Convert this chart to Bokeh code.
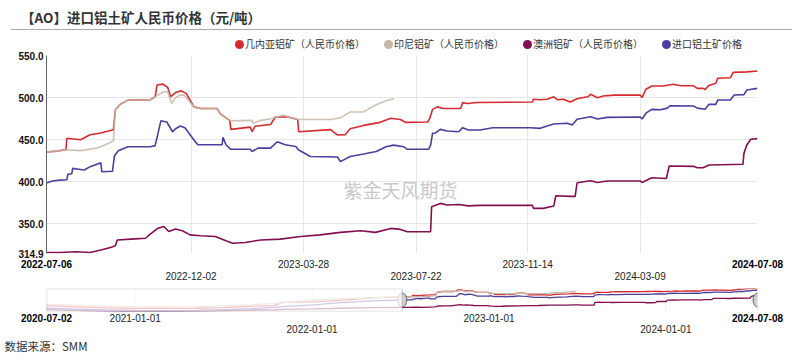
import pandas as pd
from bokeh.plotting import figure
from bokeh.models import (Range1d, FixedTicker, Label, Title,
                          BoxAnnotation, NumeralTickFormatter, ColumnDataSource,
                          LinearAxis, Div)
from bokeh.layouts import column
from bokeh.embed import file_html
from bokeh.resources import INLINE

TITLE = "【AO】进口铝土矿人民币价格（元/吨）"
SOURCE = "数据来源：SMM"
WATERMARK = "紫金天风期货"
names = ["几内亚铝矿（人民币价格）", "印尼铝矿（人民币价格）", "澳洲铝矿（人民币价格）", "进口铝土矿价格"]
colors = ["#d42a30", "#c6b7a7", "#820f52", "#4a3f9c"]

guinea_dates = ["2022-07-06","2022-07-16","2022-07-26","2022-07-27","2022-08-10","2022-08-20","2022-08-31","2022-09-10","2022-09-13","2022-09-15","2022-09-20","2022-09-28","2022-10-21","2022-10-26","2022-10-28","2022-11-03","2022-11-08","2022-11-11","2022-11-16","2022-11-22","2022-11-27","2022-12-05","2022-12-12","2022-12-29","2023-01-01","2023-01-08","2023-01-11","2023-01-12","2023-02-01","2023-02-03","2023-02-06","2023-02-22","2023-02-27","2023-03-12","2023-03-22","2023-03-23","2023-04-25","2023-05-02","2023-05-10","2023-05-15","2023-05-29","2023-06-15","2023-06-26","2023-07-06","2023-07-11","2023-08-03","2023-08-05","2023-08-08","2023-08-13","2023-08-19","2023-09-06","2023-09-08","2023-09-13","2023-09-23","2023-11-19","2023-11-20","2023-11-27","2023-12-04","2023-12-11","2023-12-15","2023-12-21","2023-12-28","2024-01-04","2024-01-15","2024-01-18","2024-01-25","2024-01-31","2024-02-11","2024-03-09","2024-03-11","2024-03-15","2024-03-21","2024-04-02","2024-04-12","2024-04-20","2024-05-03","2024-05-07","2024-05-13","2024-05-15","2024-05-19","2024-05-26","2024-05-28","2024-06-10","2024-06-13","2024-06-27","2024-07-08"]
guinea_vals = [435.5,436.5,438,451.7,450,456,458,461,462,485.3,492,497,497.5,501,515,516,512,501,506,508,505,489,487,487,481,475,473,462.3,465,459.5,466,468,477,477,474,459.5,462,455.6,456,463,467,470.6,475.4,474,470.6,471,475,486,489,487,487,494,493,494.2,494.7,498,497.4,498,501,497.4,498,494.7,498.7,501,503.9,499.9,502,503,503,500,509.9,513.8,513.8,515.8,514,514,511,511,509.7,514.5,517,522.9,523.5,530,530.6,531.6]

indonesia_dates = ["2022-07-06","2022-07-16","2022-07-27","2022-08-10","2022-08-26","2022-09-05","2022-09-13","2022-09-15","2022-09-20","2022-09-28","2022-10-21","2022-10-26","2022-11-01","2022-11-04","2022-11-08","2022-11-12","2022-11-16","2022-11-21","2022-11-25","2022-11-27","2022-12-05","2022-12-12","2022-12-29","2023-01-01","2023-01-08","2023-01-12","2023-02-03","2023-02-04","2023-02-12","2023-02-22","2023-03-07","2023-03-15","2023-03-22","2023-04-25","2023-05-05","2023-05-15","2023-05-29","2023-06-05","2023-06-15","2023-06-23","2023-06-29"]
indonesia_vals = [435.5,436.5,438,437,440,444,448.8,485.3,492,497,497.5,501,505,507,507,493,500,503,503,500,489,487,487,481,475,472.6,473,469.5,473,475,479.3,476,474,474,476,483,483,488,493.5,497,498.5]

australia_dates = ["2022-07-06","2022-07-20","2022-08-05","2022-08-20","2022-08-31","2022-09-10","2022-09-15","2022-09-17","2022-10-01","2022-10-16","2022-10-21","2022-10-29","2022-11-04","2022-11-09","2022-11-16","2022-11-23","2022-12-01","2022-12-12","2022-12-27","2023-01-07","2023-01-14","2023-01-27","2023-02-12","2023-03-04","2023-03-25","2023-04-14","2023-05-05","2023-05-26","2023-06-10","2023-06-26","2023-07-06","2023-07-13","2023-08-06","2023-08-07","2023-08-16","2023-08-23","2023-09-04","2023-09-14","2023-09-26","2023-11-19","2023-11-20","2023-11-30","2023-12-11","2023-12-13","2023-12-28","2024-01-02","2024-01-04","2024-01-18","2024-01-25","2024-02-04","2024-03-09","2024-03-11","2024-03-21","2024-04-05","2024-04-08","2024-05-03","2024-05-07","2024-05-13","2024-05-19","2024-06-23","2024-06-24","2024-06-27","2024-07-01","2024-07-08"]
australia_vals = [316,316,317,316,319,322,324,331,332,333,338,345,347,341,344,342,337,336,335,330,327,328,331,332,335,337,340,342,340,344.7,343.5,340.7,340.7,370.4,374.4,372.4,373,371.4,372.1,372.1,368.5,368.5,371.4,383.5,382.7,382.7,398.9,401.3,399.3,400.9,401,399.3,404.9,404,418.8,418.4,416.8,416.8,420,420.8,433.8,443.7,450.5,451.3]

import_dates = ["2022-07-06","2022-07-12","2022-07-20","2022-07-27","2022-07-28","2022-08-01","2022-08-02","2022-08-08","2022-08-14","2022-08-20","2022-08-27","2022-08-31","2022-09-01","2022-09-12","2022-09-14","2022-09-18","2022-09-28","2022-10-21","2022-10-26","2022-11-01","2022-11-07","2022-11-13","2022-11-16","2022-11-21","2022-11-26","2022-12-05","2022-12-09","2023-01-03","2023-01-04","2023-01-07","2023-01-12","2023-02-01","2023-02-03","2023-02-09","2023-02-22","2023-03-01","2023-03-09","2023-03-20","2023-03-23","2023-04-04","2023-05-02","2023-05-05","2023-05-15","2023-05-29","2023-06-11","2023-06-21","2023-06-29","2023-07-09","2023-07-13","2023-08-04","2023-08-06","2023-08-08","2023-08-11","2023-08-16","2023-08-23","2023-09-04","2023-09-08","2023-09-14","2023-09-26","2023-10-09","2023-11-17","2023-11-27","2023-12-04","2023-12-11","2023-12-25","2023-12-30","2024-01-04","2024-01-18","2024-01-25","2024-02-04","2024-03-09","2024-03-11","2024-03-15","2024-03-21","2024-03-30","2024-04-06","2024-04-09","2024-05-03","2024-05-07","2024-05-15","2024-05-19","2024-05-26","2024-05-28","2024-06-10","2024-06-14","2024-06-24","2024-06-27","2024-07-08"]
import_vals = [398.5,401,402,402.5,409,409.5,416,415,414,418,421,422.5,412,412.5,430.6,437,441.7,441.7,443,472.6,471,459.5,463,466.3,464,449.6,444,444,452.8,444,438.6,438.6,436,440,440,447.6,444,442,437.8,430,429.5,424,430,433,436,441.7,443.6,441.7,438.6,438.6,443.6,457.6,458,462.3,460.3,459.5,464.3,461.5,461.5,464.3,464.3,463.5,466.3,468.7,469.5,467.5,474.2,477.3,474.6,476.5,477,474.6,481.5,486,485.5,487.5,490.4,490,487.5,486.1,492,492,497.1,497.1,503.1,503.5,509,511]

# earlier history shown only in the navigator
hist_dates = ["2020-07-02","2020-09-01","2020-11-02","2021-01-04","2021-03-01","2021-05-06","2021-07-01","2021-09-01","2021-10-15","2021-11-01","2022-01-04","2022-03-01","2022-05-05","2022-07-05"]
hist_guinea = [335,322,310,305,303,305,312,330,335,372,378,395,425,435]
hist_indonesia = [350,340,330,322,320,325,335,345,360,368,400,415,428,435]
hist_australia = [290,280,272,268,270,272,278,285,288,292,298,305,312,316]
hist_import = [305,295,285,280,278,282,290,300,315,325,345,370,390,398]

y_ticks = [314.9, 350, 400, 450, 500, 550]
main_ticks_row1 = ["2023-03-28", "2023-11-14"]
main_ticks_row2 = ["2022-12-02", "2023-07-22", "2024-03-09"]
nav_ticks_row1 = ["2021-01-01", "2023-01-01"]
nav_ticks_row2 = ["2022-01-01", "2024-01-01"]


def ms(s):
    return pd.Timestamp(s).value / 1e6


W = 793
LB, RB = 46, 36
AXIS_FONT = "Liberation Sans"
CJK = "Noto Sans CJK SC"


def label_axis(ax, ticks, bold, standoff, color):
    ax.ticker = FixedTicker(ticks=[ms(t) for t in ticks])
    ax.major_label_overrides = {ms(t): t for t in ticks}
    ax.major_label_text_font = AXIS_FONT
    ax.major_label_text_font_size = "10px"
    ax.major_label_text_font_style = "bold" if bold else "normal"
    ax.major_label_text_color = color
    ax.major_tick_line_color = None
    ax.major_tick_out = 0
    ax.major_tick_in = 0
    ax.minor_tick_line_color = None
    ax.minor_tick_out = 0
    ax.axis_line_color = None
    ax.major_label_standoff = standoff


# ---------------- header: title, separator and legend ----------------
LEG_FONT = 10
legend_html = ""
x = 239
for nm, c in zip(names, colors):
    legend_html += (
        f'<div style="position:absolute;left:{x - 4.5}px;top:39.5px;width:9px;height:9px;'
        f'border-radius:50%;background:{c};"></div>'
        f'<div style="position:absolute;left:{x + 6}px;top:37px;white-space:nowrap;'
        f"font-family:'Noto Sans CJK SC';font-size:{LEG_FONT}px;line-height:14px;"
        f'color:#333333;">{nm}</div>'
    )
    x += 6 + LEG_FONT * len(nm) + 23

header = Div(
    text=(
        '<div style="position:relative;width:793px;height:49px;">'
        '<div style="position:absolute;left:21px;top:8px;white-space:nowrap;'
        "font-family:'Noto Sans CJK SC';font-weight:bold;font-size:13.5px;"
        'line-height:18px;color:#333333;">' + TITLE + '</div>'
        '<div style="position:absolute;left:11px;width:781px;top:29px;height:0;'
        'border-top:1.5px solid #aaaaaa;"></div>' + legend_html + '</div>'
    ),
    width=W, height=49, margin=0,
)

# ---------------- main chart ----------------
series = [
    (australia_dates, australia_vals, colors[2]),
    (import_dates, import_vals, colors[3]),
    (guinea_dates, guinea_vals, colors[0]),
    (indonesia_dates, indonesia_vals, colors[1]),
]
x_start, x_end = guinea_dates[0], guinea_dates[-1]

p = figure(width=W, height=237, x_axis_type="datetime",
           x_range=Range1d(ms(x_start), ms(x_end)), y_range=Range1d(y_ticks[0], y_ticks[-1]),
           min_border_left=LB, min_border_right=RB, min_border_top=6, min_border_bottom=33,
           toolbar_location=None, output_backend="svg")
p.outline_line_color = None

p.add_layout(Label(x=354, y=64, x_units="screen", y_units="screen", text=WATERMARK,
                   text_font=CJK, text_font_size="19px", text_color="#c9c9c9",
                   text_align="center", text_baseline="middle", level="underlay"))

for d, v, c in series:
    src = ColumnDataSource(dict(date=pd.to_datetime(d), val=v))
    p.line("date", "val", source=src, line_color=c, line_width=1.6,
           line_alpha=0.85 if c == colors[1] else 1.0)

yax = p.yaxis[0]
yax.ticker = FixedTicker(ticks=y_ticks)
yax.formatter = NumeralTickFormatter(format="0.0")
yax.major_label_text_font = AXIS_FONT
yax.major_label_text_font_style = "bold"
yax.major_label_text_font_size = "10px"
yax.major_label_text_color = "#111111"
yax.major_tick_line_color = None
yax.major_tick_out = 0
yax.minor_tick_line_color = None
yax.minor_tick_out = 0
yax.axis_line_color = "#666666"
yax.major_label_standoff = 3

# x labels: bold range ends, then two staggered rows of normal labels
label_axis(p.xaxis[0], [x_start, x_end], True, 6, "#000000")
ax_r1 = LinearAxis()
label_axis(ax_r1, main_ticks_row1, False, -11, "#222222")
p.add_layout(ax_r1, "below")
ax_r2 = LinearAxis()
label_axis(ax_r2, main_ticks_row2, False, 1, "#222222")
p.add_layout(ax_r2, "below")

mid_ticks = sorted(main_ticks_row1 + main_ticks_row2)
p.xgrid.ticker = FixedTicker(ticks=[ms(t) for t in mid_ticks])
p.ygrid.ticker = FixedTicker(ticks=y_ticks[1:])
p.xgrid.grid_line_color = "#e6e6e6"
p.ygrid.grid_line_color = "#e6e6e6"

# ---------------- navigator ----------------
nav_series = [
    (hist_dates + australia_dates, hist_australia + australia_vals, colors[2]),
    (hist_dates + import_dates, hist_import + import_vals, colors[3]),
    (hist_dates + guinea_dates, hist_guinea + guinea_vals, colors[0]),
    (hist_dates + indonesia_dates, hist_indonesia + indonesia_vals, colors[1]),
]
all_vals = [v for _, vals, _ in nav_series for v in vals]
ymin, ymax = min(all_vals), max(all_vals)
n_start = hist_dates[0]

n = figure(width=W, height=68, x_axis_type="datetime", y_axis_type=None,
           x_range=Range1d(ms(n_start), ms(x_end)), y_range=Range1d(ymin, ymax),
           min_border_left=LB, min_border_right=RB, min_border_top=2, min_border_bottom=41,
           toolbar_location=None, output_backend="svg")
n.outline_line_color = None
for d, v, c in nav_series:
    src = ColumnDataSource(dict(date=pd.to_datetime(d), val=v))
    n.line("date", "val", source=src, line_color=c, line_width=1.3)

n.add_layout(BoxAnnotation(left=ms(n_start), right=ms(x_start), fill_color="white",
                           fill_alpha=0.72, line_color="#8c8c8c", line_width=1.5))
ymid = (ymin + ymax) / 2
n.ellipse(x=[ms(x_start), ms(x_end)], y=[ymid, ymid], width=9, height=14,
          width_units="screen", height_units="screen",
          fill_color="#cfcfcf", line_color="#666666", line_width=1)

label_axis(n.xaxis[0], [n_start, x_end], True, 2, "#000000")
nax_r1 = LinearAxis()
label_axis(nax_r1, nav_ticks_row1, False, -11, "#222222")
n.add_layout(nax_r1, "below")
nax_r2 = LinearAxis()
label_axis(nax_r2, nav_ticks_row2, False, 0, "#222222")
n.add_layout(nax_r2, "below")

nav_mid = sorted(nav_ticks_row1 + nav_ticks_row2)
n.xgrid.ticker = FixedTicker(ticks=[ms(t) for t in nav_mid])
n.xgrid.grid_line_color = "#eeeeee"

n.add_layout(Title(text=SOURCE, align="left", offset=4 - LB, standoff=1,
                   text_font=CJK, text_font_size="11.5px", text_font_style="normal",
                   text_color="#333333"), "below")

layout = column(header, p, n)
open("out.html", "w").write(file_html(layout, INLINE))
